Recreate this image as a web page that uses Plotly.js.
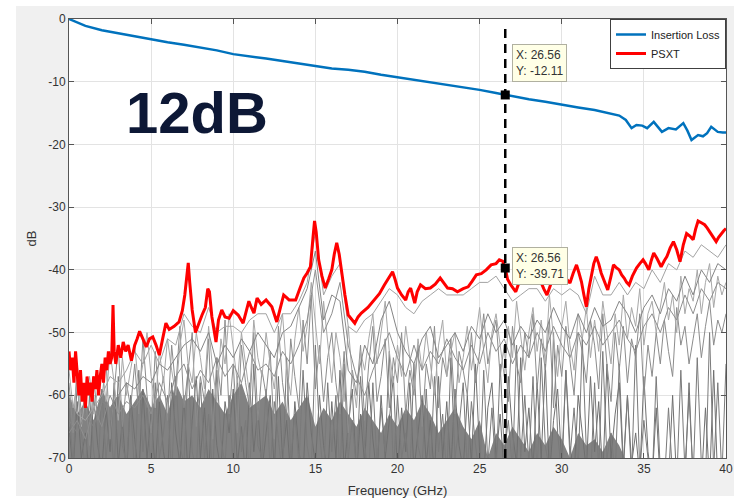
<!DOCTYPE html>
<html>
<head>
<meta charset="utf-8">
<script src="https://cdn.plot.ly/plotly-3.0.1.min.js"></script>
<style>
html,body{margin:0;padding:0;background:#fff;}
#chart{width:734px;height:501px;}
</style>
</head>
<body>
<div id="chart"></div>
<script>
// ---------- Insertion loss (blue) ----------
const ilFreq = [0,0.5,1,2,3,4,5,6,7,8,9,10,11,12,13,14,15,16,17,18,19,20,21,22,23,24,25,26,26.56,27,28,29,30,31,32,33,
  33.5,33.9,34.25,34.55,34.9,35.2,35.6,35.85,36.1,36.5,36.95,37.4,37.65,37.9,38.3,38.6,38.85,39.1,39.5,39.8,40];
const ilDb = [0,-0.6,-1.1,-1.8,-2.3,-2.8,-3.2,-3.7,-4.1,-4.5,-5.0,-5.6,-5.9,-6.3,-6.7,-7.1,-7.6,-7.9,-8.1,-8.4,-8.9,-9.3,-9.6,-10.0,-10.5,-10.9,-11.3,-11.8,-12.11,-12.3,-12.8,-13.2,-13.7,-14.1,-14.5,-15.1,
  -15.4,-16.1,-17.4,-16.9,-17.0,-17.4,-16.4,-17.2,-18.0,-17.4,-17.6,-16.6,-17.8,-19.3,-18.5,-18.7,-18.2,-17.2,-18.0,-18.1,-18.1];

// ---------- PSXT (red) ----------
const psxtFreq = [
  0,0.1,0.2,0.3,0.4,0.5,0.6,0.7,0.8,0.9,
  1.0,1.1,1.2,1.3,1.4,1.5,1.6,1.7,1.8,1.9,
  2.0,2.1,2.2,2.3,2.4,2.5,2.6,2.68,2.75,2.85,
  3.0,3.15,3.3,3.45,3.6,3.8,4.0,4.15,4.3,4.5,
  4.7,4.9,5.1,5.3,5.5,5.7,5.9,6.1,6.4,6.7,
  6.9,7.05,7.15,7.26,7.35,7.5,7.7,7.9,8.1,8.3,
  8.45,8.55,8.7,8.95,9.1,9.3,9.5,9.75,10.0,10.3,
  10.6,10.8,10.95,11.1,11.26,11.45,11.7,12.0,12.35,12.65,
  12.9,13.07,13.4,13.8,14.05,14.3,14.5,14.7,14.85,14.95,
  15.05,15.2,15.4,15.6,15.8,16.0,16.15,16.3,16.45,16.6,
  16.8,17.0,17.2,17.4,17.6,17.8,18.2,18.6,18.9,19.2,
  19.5,19.7,19.85,20.0,20.25,20.5,20.65,20.8,21.05,21.2,
  21.4,21.7,22.0,22.3,22.6,22.8,23.05,23.35,23.65,24.0,
  24.3,24.55,24.8,25.1,25.4,25.7,26.0,26.2,26.4,26.56,
  26.7,26.9,27.2,27.4,27.6,27.9,28.1,28.3,28.5,28.7,
  28.9,29.1,29.35,29.6,29.85,30.1,30.3,30.5,30.7,30.9,
  31.05,31.2,31.35,31.5,31.65,31.8,31.95,32.1,32.25,32.4,
  32.6,32.8,33.0,33.15,33.3,33.5,33.65,33.8,33.95,34.1,
  34.3,34.55,34.75,34.95,35.1,35.3,35.45,35.6,35.8,36.05,
  36.25,36.4,36.6,36.8,37.0,37.2,37.4,37.6,37.8,38.0,
  38.15,38.3,38.5,38.7,38.85,39.0,39.2,39.4,39.55,39.7,
  39.85,40];
const psxtDb = [
  -53,-56,-54,-58,-53,-57,-60,-56,-61,-58,
  -62,-57,-60,-58,-61,-57,-59,-56,-60,-57,
  -55,-58,-54,-56,-53,-55,-54,-45.6,-53,-55,
  -52,-54,-51.5,-53,-52,-54.5,-52,-51,-49.8,-51,
  -52.3,-51,-50.7,-52,-53.6,-51,-48.5,-49.5,-49,-48.3,
  -46.5,-44,-41,-38.9,-42,-46.4,-50,-48.5,-47.2,-46,
  -43,-43.5,-47.5,-51.5,-48,-46.4,-47.5,-47.7,-46.5,-47.2,
  -48.5,-46.5,-45,-46,-46.9,-44.5,-45.5,-44.8,-45.9,-48.3,
  -46,-44,-44.8,-44.8,-43,-41.3,-40.5,-39.5,-35,-32.2,
  -34,-38.4,-41,-42.9,-41.5,-40,-37.5,-35.7,-37.5,-40.5,
  -44,-47.2,-47.8,-48.5,-47.5,-46.9,-46,-44.8,-43.8,-42.4,
  -41,-40.3,-41.5,-42.9,-44,-44.8,-43.5,-42.9,-45.3,-43.5,
  -42.4,-43,-42.9,-42.3,-41.3,-42,-42.9,-43,-43.5,-43,
  -42.7,-41.8,-40.8,-40.6,-40,-39.2,-39,-38.4,-38.6,-39.71,
  -41.5,-42.4,-43.5,-42,-41.3,-40.5,-40,-39.2,-40.5,-41.9,
  -43,-44,-42,-40.3,-40.8,-41.1,-41.5,-42.1,-40.5,-39.2,
  -40.5,-41.9,-44,-45.9,-43,-41.1,-39,-37.9,-39,-40.5,
  -42,-43.2,-41,-39.2,-39.6,-40,-40.8,-41.3,-42,-42.4,
  -41,-39.7,-39,-38.4,-39,-40,-38.5,-37.3,-38.2,-39.5,
  -38.5,-37.9,-36.5,-35.5,-36.8,-38.7,-36,-34.2,-34.6,-35.2,
  -33.5,-32.2,-32.5,-32.8,-33.3,-33.9,-34.8,-35.5,-34.8,-34.2,
  -33.8,-33.4];

// ---------- individual crosstalk traces (grey), 0.5 GHz grid ----------
const freqS = [
  0,0.5,1,1.5,2,2.5,3,3.5,
  4,4.5,5,5.5,6,6.5,7,7.5,
  8,8.5,9,9.5,10,10.5,11,11.5,
  12,12.5,13,13.5,14,14.5,15,15.5,
  16,16.5,17,17.5,18,18.5,19,19.5,
  20,20.5,21,21.5,22,22.5,23,23.5,
  24,24.5,25,25.5,26,26.5,27,27.5,
  28,28.5,29,29.5,30,30.5,31,31.5,
  32,32.5,33,33.5,34,34.5,35,35.5,
  36,36.5,37,37.5,38,38.5,39,39.5,
  40];
const xtA = [
  -60,-63,-64,-62,-60,-57,-58,-56,
  -53,-55,-52,-55,-51,-52,-47,-49,
  -50,-46,-50,-49,-49,-50,-48,-47,
  -47,-50,-47,-47,-45,-42,-34,-44,
  -41,-39,-49,-50,-48,-47,-45,-43,
  -44,-46,-47,-45,-44,-43,-44,-44,
  -44,-43,-42,-42,-41,-43,-45,-44,
  -43,-43,-45,-43,-44,-43,-44,-47,
  -41,-44,-44,-42,-44,-42,-43,-40,
  -42,-39,-40,-37,-38,-36,-37,-38,
  -36];
const xtB = [
  -64,-66,-63,-65,-61,-62,-60,-58,
  -59,-57,-58,-55,-56,-54,-52,-51,
  -53,-50,-55,-52,-54,-51,-53,-50,
  -52,-54,-50,-49,-46,-43,-37,-48,
  -44,-45,-56,-58,-52,-55,-48,-45,
  -50,-53,-55,-51,-49,-54,-52,-50,
  -53,-49,-51,-47,-50,-48,-52,-49,
  -51,-48,-50,-46,-49,-51,-47,-50,
  -46,-49,-48,-45,-47,-50,-46,-44,
  -47,-43,-45,-41,-44,-40,-42,-39,
  -40];
const xtC = [
  -66,-64,-67,-62,-65,-60,-63,-61,
  -62,-60,-63,-58,-61,-57,-55,-59,
  -56,-58,-54,-57,-55,-58,-53,-56,
  -55,-57,-53,-55,-52,-48,-40,-50,
  -47,-42,-52,-57,-60,-56,-53,-50,
  -54,-57,-52,-56,-53,-55,-51,-54,
  -56,-52,-55,-50,-53,-51,-55,-52,
  -54,-50,-53,-49,-52,-54,-50,-52,
  -49,-52,-50,-48,-51,-53,-49,-47,
  -50,-46,-48,-44,-47,-43,-45,-42,
  -43];

// ---------- noisy crosstalk traces (grey), 0.25 GHz grid ----------
const freqN = [
  0,0.25,0.5,0.75,1,1.25,1.5,1.75,
  2,2.25,2.5,2.75,3,3.25,3.5,3.75,
  4,4.25,4.5,4.75,5,5.25,5.5,5.75,
  6,6.25,6.5,6.75,7,7.25,7.5,7.75,
  8,8.25,8.5,8.75,9,9.25,9.5,9.75,
  10,10.25,10.5,10.75,11,11.25,11.5,11.75,
  12,12.25,12.5,12.75,13,13.25,13.5,13.75,
  14,14.25,14.5,14.75,15,15.25,15.5,15.75,
  16,16.25,16.5,16.75,17,17.25,17.5,17.75,
  18,18.25,18.5,18.75,19,19.25,19.5,19.75,
  20,20.25,20.5,20.75,21,21.25,21.5,21.75,
  22,22.25,22.5,22.75,23,23.25,23.5,23.75,
  24,24.25,24.5,24.75,25,25.25,25.5,25.75,
  26,26.25,26.5,26.75,27,27.25,27.5,27.75,
  28,28.25,28.5,28.75,29,29.25,29.5,29.75,
  30,30.25,30.5,30.75,31,31.25,31.5,31.75,
  32,32.25,32.5,32.75,33,33.25,33.5,33.75,
  34,34.25,34.5,34.75,35,35.25,35.5,35.75,
  36,36.25,36.5,36.75,37,37.25,37.5,37.75,
  38,38.25,38.5,38.75,39,39.25,39.5,39.75,
  40];
const xtN1 = [
  -62,-71,-58,-66,-72,-60,-69,-73,
  -59,-70,-64,-72,-57,-68,-71,-61,
  -73,-56,-69,-62,-72,-58,-70,-66,
  -60,-73,-57,-68,-71,-55,-69,-72,
  -58,-70,-63,-73,-56,-67,-71,-60,
  -72,-57,-69,-64,-73,-55,-68,-70,
  -59,-72,-61,-67,-73,-54,-70,-63,
  -71,-56,-68,-72,-52,-66,-73,-58,
  -69,-60,-73,-55,-70,-64,-72,-57,
  -68,-73,-58,-71,-62,-69,-53,-72,
  -60,-70,-66,-73,-55,-68,-71,-59,
  -72,-57,-69,-63,-73,-54,-70,-65,
  -58,-72,-61,-68,-73,-56,-71,-62,
  -73,-55,-69,-64,-72,-52,-70,-60,
  -71,-57,-73,-54,-68,-72,-50,-66,
  -73,-56,-70,-62,-72,-51,-69,-74,
  -58,-72,-53,-70,-66,-73,-55,-71,
  -60,-73,-52,-72,-64,-70,-74,-57,
  -72,-74,-62,-73,-74,-56,-72,-60,
  -73,-54,-71,-74,-50,-72,-58,-73,
  -55];
const xtN2 = [
  -58,-66,-55,-63,-60,-68,-57,-64,
  -61,-54,-67,-59,-52,-65,-58,-62,
  -55,-63,-51,-60,-66,-53,-61,-57,
  -64,-52,-59,-49,-62,-56,-50,-65,
  -57,-61,-51,-67,-54,-60,-48,-63,
  -55,-66,-52,-58,-62,-50,-64,-56,
  -60,-53,-67,-49,-58,-63,-51,-57,
  -62,-48,-55,-44,-59,-52,-61,-54,
  -50,-58,-63,-53,-66,-56,-60,-52,
  -64,-55,-49,-61,-57,-51,-62,-54,
  -58,-50,-63,-56,-60,-52,-65,-55,
  -59,-49,-62,-54,-57,-51,-63,-53,
  -56,-60,-50,-58,-53,-47,-55,-51,
  -48,-57,-52,-61,-49,-55,-58,-50,
  -54,-47,-59,-51,-56,-48,-62,-52,
  -57,-49,-55,-60,-50,-53,-58,-48,
  -52,-59,-47,-55,-61,-50,-56,-49,
  -58,-51,-54,-47,-60,-52,-57,-50,
  -55,-48,-53,-57,-46,-52,-49,-55,
  -51,-47,-54,-49,-45,-52,-48,-50,
  -47];
const xtN3 = [
  -56,-62,-58,-65,-60,-57,-63,-59,
  -55,-61,-53,-58,-64,-54,-60,-56,
  -52,-59,-55,-50,-57,-62,-53,-58,
  -51,-56,-60,-52,-48,-55,-58,-50,
  -54,-59,-49,-56,-61,-51,-55,-47,
  -53,-58,-50,-55,-60,-48,-54,-57,
  -50,-55,-59,-52,-47,-56,-60,-51,
  -46,-53,-49,-42,-48,-55,-45,-52,
  -58,-50,-54,-61,-49,-57,-62,-53,
  -56,-51,-47,-55,-50,-45,-53,-58,
  -52,-57,-49,-54,-59,-51,-56,-50,
  -55,-60,-52,-48,-57,-53,-50,-58,
  -54,-49,-56,-51,-46,-53,-58,-50,
  -47,-52,-57,-49,-54,-45,-51,-56,
  -50,-46,-53,-48,-55,-44,-51,-57,
  -49,-45,-52,-56,-47,-51,-46,-54,
  -48,-53,-45,-50,-55,-47,-52,-44,
  -51,-46,-49,-43,-52,-47,-45,-50,
  -46,-42,-48,-44,-50,-41,-47,-43,
  -45,-40,-47,-42,-39,-46,-41,-44,
  -42];
const xtN4 = [
  -65,-72,-61,-70,-66,-73,-60,-68,
  -72,-62,-69,-58,-71,-64,-73,-60,
  -67,-73,-59,-70,-63,-72,-61,-69,
  -73,-58,-66,-71,-60,-73,-64,-57,
  -70,-62,-73,-59,-68,-72,-61,-66,
  -59,-71,-65,-73,-58,-69,-62,-72,
  -66,-60,-72,-57,-70,-64,-73,-61,
  -69,-73,-58,-66,-71,-60,-68,-73,
  -61,-70,-56,-72,-65,-59,-73,-63,
  -71,-58,-67,-73,-60,-70,-64,-57,
  -73,-62,-69,-58,-72,-66,-60,-71,
  -64,-73,-57,-70,-61,-72,-59,-68,
  -72,-60,-71,-55,-69,-73,-62,-58,
  -70,-63,-73,-57,-66,-71,-54,-69,
  -62,-72,-58,-70,-55,-73,-64,-59,
  -71,-56,-68,-73,-60,-66,-72,-57,
  -69,-61,-73,-55,-70,-63,-58,-72,
  -60,-71,-66,-73,-57,-69,-74,-62,
  -74,-73,-74,-60,-74,-73,-74,-58,
  -74,-72,-74,-62,-74,-56,-74,-74,
  -70];

// ---------- dense noise floor of the crosstalk traces, 0.5 GHz grid ----------
const floorDb = [
  -60,-63,-61,-64,-59,-62,-60,-63,
  -61,-59,-62,-60,-63,-58,-61,-60,
  -62,-59,-61,-63,-60,-58,-62,-61,
  -60,-63,-61,-64,-62,-60,-65,-62,
  -64,-61,-63,-65,-62,-64,-66,-63,
  -65,-62,-64,-61,-63,-66,-64,-62,
  -65,-67,-64,-70,-66,-68,-65,-67,
  -69,-66,-68,-65,-67,-70,-66,-68,
  -67,-69,-66,-68,-71,-70,-73,-73,
  -73,-73,-73,-73,-73,-73,-73,-73,
  -73];
const baseFreq = [0,40];
const baseDb = [-75,-75];

// ---------- data cursor ----------
const cursorFreq = [26.56,26.56];
const cursorDb = [-12.11,-39.71];
const cursorLineDb = [-70,-1.5];

const xTicks = [0,5,10,15,20,25,30,35,40];
const yTicks = [-70,-60,-50,-40,-30,-20,-10,0];

const traces = [
  {x: baseFreq, y: baseDb, mode:'lines', line:{width:0,color:'rgba(0,0,0,0)'}, showlegend:false, hoverinfo:'skip'},
  {x: freqS, y: floorDb, mode:'lines', line:{width:0,color:'#828282'}, fill:'tonexty', fillcolor:'#828282', showlegend:false, hoverinfo:'skip'},
  {x: freqN, y: xtN4, mode:'lines', line:{width:1,color:'#6f6f6f'}, showlegend:false},
  {x: freqN, y: xtN1, mode:'lines', line:{width:1,color:'#7a7a7a'}, showlegend:false},
  {x: freqN, y: xtN2, mode:'lines', line:{width:1,color:'#8c8c8c'}, showlegend:false},
  {x: freqN, y: xtN3, mode:'lines', line:{width:1,color:'#a8a8a8'}, showlegend:false},
  {x: freqS, y: xtC, mode:'lines', line:{width:1,color:'#8f8f8f'}, showlegend:false},
  {x: freqS, y: xtB, mode:'lines', line:{width:1,color:'#858585'}, showlegend:false},
  {x: freqS, y: xtA, mode:'lines', line:{width:1,color:'#a3a3a3'}, showlegend:false},
  {x: ilFreq, y: ilDb, mode:'lines', name:'Insertion Loss', line:{width:2.5,color:'#0072bd'}},
  {x: psxtFreq, y: psxtDb, mode:'lines', name:'PSXT', line:{width:3,color:'#ff0000'}},
  {x: cursorFreq, y: cursorLineDb, mode:'lines', line:{width:2.5,color:'#000',dash:'9px,6px'}, showlegend:false},
  {x: cursorFreq, y: cursorDb, mode:'markers', marker:{symbol:'square',size:9,color:'#000'}, showlegend:false}
];

const tipFont = {family:'Liberation Sans, Arial, sans-serif', size:12, color:'#333'};
const layout = {
  width:734, height:501,
  margin:{l:69, r:8, t:19, b:43},
  paper_bgcolor:'#f0f0f0',
  plot_bgcolor:'#ffffff',
  font:{family:'Liberation Sans, Arial, sans-serif', size:12, color:'#333'},
  showlegend:true,
  legend:{x:1, y:1, xanchor:'right', yanchor:'top', bgcolor:'#ffffff', bordercolor:'#404040', borderwidth:1,
          font:{size:11, color:'#222'}, tracegroupgap:0, traceorder:'normal'},
  xaxis:{range:[0,40], tickvals:xTicks, ticktext:xTicks.map(String), showgrid:true, gridcolor:'#e3e3e3',
         zeroline:false, showline:true, linecolor:'#555', linewidth:1, mirror:'ticks', ticks:'inside', ticklen:5, tickcolor:'#555',
         title:{text:'Frequency (GHz)', font:{size:13, color:'#333'}, standoff:10}, tickfont:{size:12, color:'#333'}},
  yaxis:{range:[-70,0], tickvals:yTicks, ticktext:yTicks.map(String), showgrid:true, gridcolor:'#e3e3e3',
         zeroline:false, showline:true, linecolor:'#555', linewidth:1, mirror:'ticks', ticks:'inside', ticklen:5, tickcolor:'#555',
         title:{text:'dB', font:{size:13, color:'#333'}, standoff:8}, tickfont:{size:12, color:'#333'}},
  shapes:[
    {type:'rect', xref:'paper', yref:'paper', x0:-0.2, x1:1.2, y0:1.0296, y1:1.1, fillcolor:'#ffffff', line:{width:0}, layer:'below'},
    {type:'rect', xref:'paper', yref:'paper', x0:-0.2, x1:-0.0807, y0:-0.2, y1:1.1, fillcolor:'#ffffff', line:{width:0}, layer:'below'},
    {type:'rect', xref:'paper', yref:'paper', x0:-0.2, x1:1.2, y0:-0.2, y1:-0.0866, fillcolor:'#ffffff', line:{width:0}, layer:'below'}
  ],
  annotations:[
    {xref:'x', yref:'y', x:cursorFreq[0], y:cursorDb[0], text:'X: 26.56<br>Y: -12.11', showarrow:false,
     xanchor:'left', yanchor:'bottom', xshift:7, yshift:13, align:'left', font:tipFont,
     bgcolor:'#ffffe6', bordercolor:'#b0b0a0', borderwidth:1, borderpad:3},
    {xref:'x', yref:'y', x:cursorFreq[1], y:cursorDb[1], text:'X: 26.56<br>Y: -39.71', showarrow:false,
     xanchor:'left', yanchor:'middle', xshift:7, yshift:2, align:'left', font:tipFont,
     bgcolor:'#ffffe6', bordercolor:'#b0b0a0', borderwidth:1, borderpad:3},
    {xref:'paper', yref:'paper', x:(197-69)/657, y:(458-112)/439, text:'<b>12dB</b>', showarrow:false,
     xanchor:'center', yanchor:'middle', font:{family:'Liberation Sans, Arial, sans-serif', size:58, color:'#0d1836'}}
  ]
};

Plotly.newPlot('chart', traces, layout, {displayModeBar:false, staticPlot:true});
</script>
</body>
</html>
